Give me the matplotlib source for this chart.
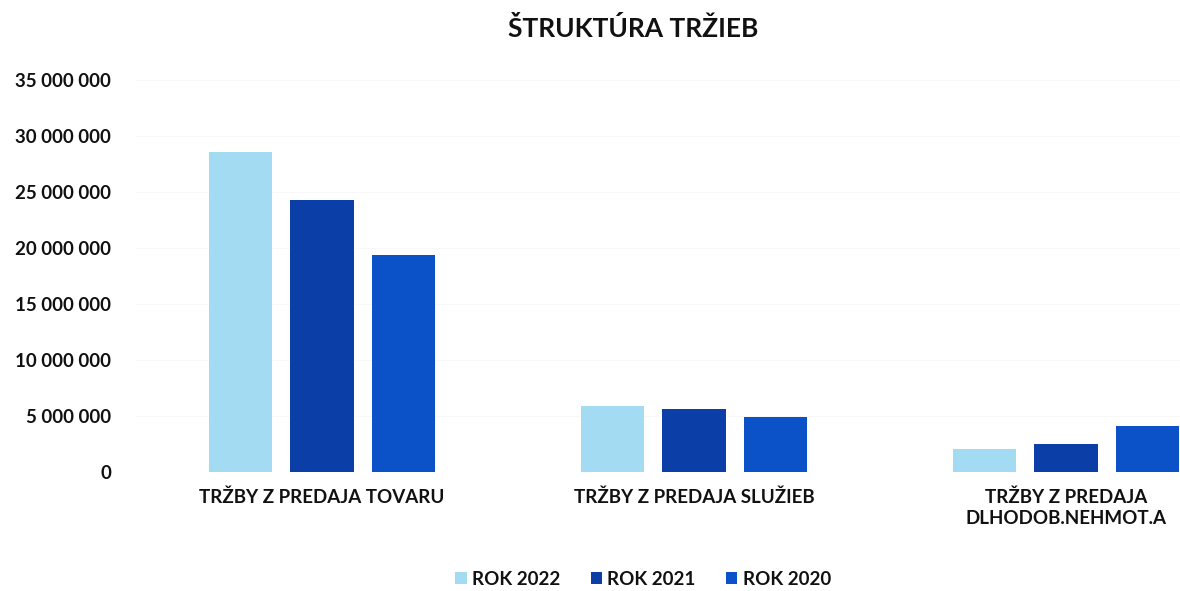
import numpy as np
import matplotlib.pyplot as plt
from matplotlib.ticker import FuncFormatter

plt.rcParams['font.family'] = ['Lato', 'DejaVu Sans']

# udaje z grafu
kategorie = ['TRŽBY Z PREDAJA TOVARU', 'TRŽBY Z PREDAJA SLUŽIEB', 'TRŽBY Z PREDAJA\nDLHODOB.NEHMOT.A']
roky = ['ROK 2022', 'ROK 2021', 'ROK 2020']
rok_2022 = [28600000, 5900000, 2050000]
rok_2021 = [24300000, 5650000, 2500000]
rok_2020 = [19400000, 4900000, 4100000]
farby = ['#a3dbf2', '#0c3ea8', '#0b52c9']

fig = plt.figure(figsize=(11.8, 5.91), dpi=100)
ax = fig.add_axes([136 / 1180, 1 - 472 / 591, (1180 - 136) / 1180, (472 - 80) / 591])

x = np.arange(len(kategorie))
sirka = 0.17
krok = 0.22
for i, (hodnoty, nazov) in enumerate(zip([rok_2022, rok_2021, rok_2020], roky)):
    ax.bar(x + (i - 1) * krok, hodnoty, width=sirka, color=farby[i], label=nazov, zorder=3)

ax.set_ylim(0, 35000000)
ax.set_xlim(-0.5, (1180 - 322) / 372)
ax.set_yticks(np.arange(0, 35000001, 5000000))
ax.yaxis.set_major_formatter(FuncFormatter(lambda v, p: f'{int(v):,}'.replace(',', ' ')))
ax.grid(axis='y', color='#f8f8f8', linewidth=0.8, zorder=0)
for s in ax.spines.values():
    s.set_visible(False)
ax.tick_params(axis='both', length=0, labelsize=13.5)
ax.set_xticks(x)
ax.set_xticklabels(kategorie, fontsize=13.5, linespacing=1.3)
ax.tick_params(axis='x', pad=12)
ax.tick_params(axis='y', pad=18)
for t in ax.get_yticklabels() + ax.get_xticklabels():
    t.set_fontweight('bold')
    t.set_color('#111111')

fig.text(0.537, 0.951, 'ŠTRUKTÚRA TRŽIEB', ha='center', va='center', fontsize=19, fontweight='bold',
         color='#111111')

leg = fig.legend(loc='center', bbox_to_anchor=(0.545, 0.02), ncol=3, frameon=False,
                 fontsize=13.5, handlelength=0.6, handleheight=0.6, handletextpad=0.3, columnspacing=1.6)
for t in leg.get_texts():
    t.set_fontweight('bold')
    t.set_color('#111111')

fig.savefig('out.png', dpi=100)
